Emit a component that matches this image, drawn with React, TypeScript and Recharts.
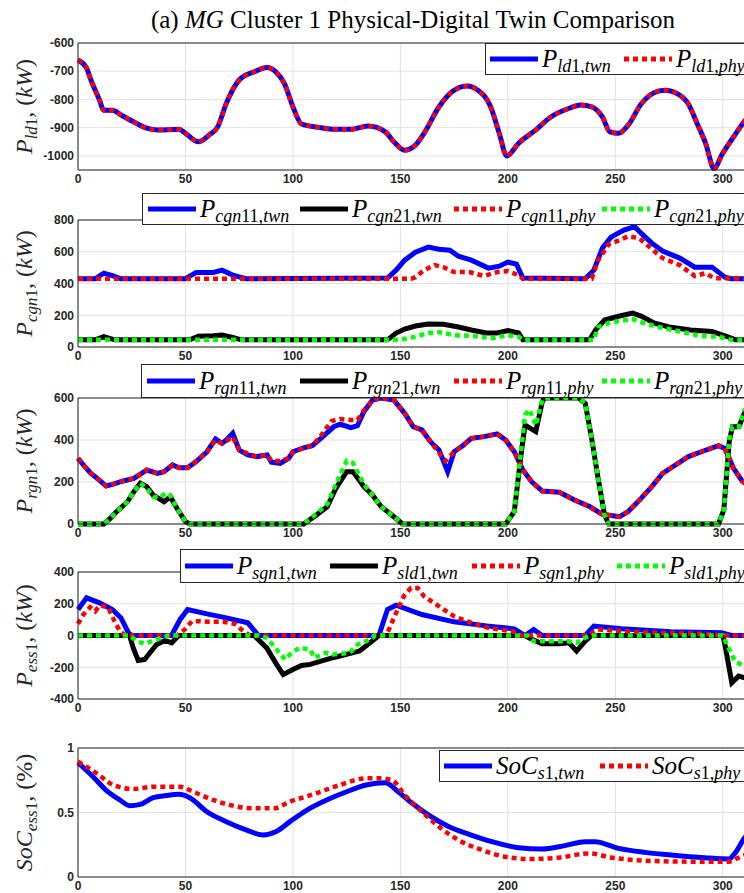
import React from 'react';
import { LineChart, Line, XAxis, YAxis, CartesianGrid, ReferenceLine, Label } from 'recharts';

// time axis
const xTicks = [0, 50, 100, 150, 200, 250, 300];

// panel 1: load power
const ld1Twn = [[0,-660],[4,-689],[6,-731],[10,-802],[12,-838],[16,-838],[20,-855],[26,-880],[32,-902],[37,-908],[47,-906],[50,-920],[56,-950],[61,-926],[65,-897],[69,-814],[75,-731],[82,-702],[88,-687],[92,-702],[96,-743],[100,-826],[104,-887],[113,-900],[119,-906],[127,-906],[135,-894],[143,-915],[147,-950],[152,-980],[157,-962],[161,-920],[168,-826],[174,-773],[181,-752],[186,-767],[192,-826],[196,-920],[199.5,-1000],[205,-955],[213,-908],[220,-862],[228,-833],[234,-820],[239,-826],[244,-862],[247.5,-915],[251.5,-920],[256,-891],[262,-816],[268,-776],[273,-767],[279,-780],[284,-816],[288,-884],[292,-955],[296,-1045],[299.5,-997],[305,-933],[310,-878],[315,-830]];
const ld1Phy = ld1Twn;

// panel 2: conventional generators
const cgn11Twn = [[0,430],[8,430],[12,465],[16,450],[20,430],[50,430],[55,470],[63,470],[67,484],[72,453],[78,430],[144,434],[148,484],[152,547],[157,597],[163,629],[168,616],[173,610],[177,572],[183,547],[191,497],[196,509],[200,535],[204,522],[207,434],[236,430],[240,484],[244,623],[248,692],[254,736],[259,758],[262,717],[267,654],[272,604],[280,560],[287,503],[295,503],[301,440],[304,430],[315,430]];
const cgn21Twn = [[0,45],[8,45],[12,65],[17,45],[52,45],[56,68],[63,71],[67,75],[72,60],[76,45],[144,45],[148,88],[152,113],[157,132],[163,145],[170,143],[177,126],[183,107],[190,88],[195,88],[200,103],[205,88],[207,45],[238,45],[241,110],[245,170],[252,195],[258,214],[262,195],[268,151],[275,126],[285,107],[295,98],[302,66],[306,45],[315,45]];
const cgn11Phy = [[0,430],[155,430],[157,440],[161,484],[166,516],[170,503],[175,472],[182,472],[189,447],[195,472],[200,478],[205,453],[207,430],[239,430],[242,547],[247,648],[252,673],[256,698],[261,686],[266,629],[272,560],[280,516],[287,447],[292,465],[296,434],[315,430]];
const cgn21Phy = [[0,45],[150,45],[157,65],[163,88],[168,93],[175,75],[185,68],[193,55],[200,75],[205,65],[207,45],[240,45],[242,126],[247,151],[252,164],[258,176],[263,151],[270,126],[280,98],[290,68],[298,65],[304,45],[315,45]];

// panel 3: renewable generators
const rgn11Twn = [[0,313],[2.5,281],[6,241],[9,217],[13,181],[16,189],[21,205],[26,217],[32,257],[37,241],[40,249],[44,281],[47,268],[51,268],[55,297],[60,344],[64,405],[67,384],[69,400],[72,432],[75,352],[79,329],[83,321],[88,329],[90,294],[94,289],[98,313],[100,344],[105,363],[109,373],[113,408],[119,463],[122,475],[127,459],[130,468],[133,535],[137,590],[141,600],[147,590],[152,527],[156,463],[160,448],[164,392],[168,352],[172,249],[175,344],[179,373],[183,408],[189,416],[195,429],[199,400],[203,344],[207,257],[211,202],[216,157],[224,151],[231,114],[238,83],[244,46],[252,35],[256,59],[262,122],[267,178],[272,241],[278,281],[284,321],[290,344],[298,373],[301,360],[305,265],[309,205],[315,160]];
const rgn21Twn = [[0,0],[12,0],[15,27],[18,59],[23,106],[26,154],[29,194],[32,178],[35,138],[40,106],[43,130],[46,75],[50,11],[52,0],[105,0],[111,43],[116,83],[120,170],[125,249],[128,249],[133,178],[137,138],[141,83],[146,43],[151,0],[199,0],[203,59],[206.5,360],[208,471],[213,440],[216,582],[217,600],[233,600],[236,575],[239,408],[242,217],[245,43],[247,0],[298,0],[300.5,67],[303,392],[304.5,463],[307.5,463],[310,527],[315,600]];
const rgn11Phy = [[0,313],[3,275],[6,241],[9,217],[13,181],[16,189],[21,205],[26,217],[32,257],[37,241],[40,249],[44,281],[47,268],[51,268],[55,297],[60,344],[64,400],[67,384],[69,395],[72,415],[75,352],[79,335],[83,321],[88,329],[90,300],[94,300],[98,313],[100,340],[105,363],[109,373],[113,420],[118,490],[122,500],[127,495],[130,495],[133,540],[137,590],[141,600],[147,590],[152,527],[156,463],[160,448],[164,392],[168,340],[171,300],[175,344],[179,373],[183,408],[189,416],[195,429],[199,400],[203,344],[207,257],[211,202],[216,157],[224,151],[231,114],[238,83],[244,46],[252,35],[256,59],[262,122],[267,178],[272,241],[278,281],[284,321],[290,344],[298,373],[301,360],[305,265],[309,205],[315,160]];
const rgn21Phy = [[0,0],[12,0],[15,27],[18,59],[23,106],[26,154],[29,194],[32,170],[35,130],[38,125],[41,148],[43,135],[46,75],[50,11],[52,0],[105,0],[111,50],[116,95],[120,190],[125,300],[128,290],[133,190],[137,138],[141,83],[146,43],[151,0],[199,0],[203,59],[206.5,380],[208,520],[210,545],[213,470],[216,590],[217,600],[233,600],[236,575],[239,408],[242,217],[245,43],[247,0],[298,0],[300.5,67],[303,400],[304.5,463],[307.5,463],[310,540],[315,600]];

// panel 4: storage
const sgn1Twn = [[0,164],[4,237],[10,206],[16,164],[20,111],[23.5,17],[25,0],[43.5,0],[47.5,101],[51,164],[60,136],[69,111],[79,80],[84,0],[140,0],[144,164],[148,191],[160,132],[175,86],[191,59],[203,42],[208,0],[212,38],[216,0],[236,0],[240,59],[253,42],[276,23],[299.5,17],[304,0],[315,0]];
const sld1Twn = [[0,0],[24,0],[25.7,-78],[28,-157],[31,-151],[33.5,-109],[36.6,-57],[40.5,-31],[43.6,-46],[46.6,-4],[47,0],[82,0],[83,-15],[87.8,-78],[92.4,-182],[95.5,-245],[100,-214],[104,-189],[108,-182],[118.6,-140],[131,-98],[136,-45],[140,0],[208,0],[209.8,-15],[215.8,-52],[223.7,-52],[228.4,-46],[232,-98],[236,-36],[239,0],[300,0],[301,-57],[304.2,-297],[307.4,-256],[310,-266],[315,-260]];
const sgn1Phy = [[0,73],[2.5,132],[5.6,178],[8,153],[10,189],[14,178],[17,90],[19.5,27],[22,0],[46,0],[49.7,38],[53,90],[56.7,90],[60.5,86],[67.6,86],[73,73],[76,38],[80,0],[142,0],[144,17],[148,143],[152,258],[155,300],[158,300],[161,247],[168,184],[175,121],[183,80],[191,48],[202,27],[206.5,0],[237.6,0],[242,38],[261,21],[291.6,10],[299.5,0],[315,0]];
const sld1Phy = [[0,0],[24,0],[27.4,-36],[31,-52],[36.6,-25],[41.4,-4],[42,0],[84,0],[87.8,-15],[92.4,-88],[96.3,-151],[99.4,-109],[103,-78],[108,-88],[110,-140],[115,-109],[118.6,-120],[126.5,-109],[130,-57],[134,-36],[137,-15],[138,0],[209,0],[212,-36],[228,-36],[232,-46],[236,-15],[238,0],[300,0],[302,-57],[305.6,-162],[310,-193],[315,-190]];

// panel 5: state of charge
const socTwn = [[0,0.886],[7,0.777],[13,0.674],[19.5,0.597],[24,0.553],[29,0.563],[35,0.615],[41,0.631],[47,0.641],[52,0.615],[60,0.506],[69,0.429],[78.5,0.364],[86,0.326],[92,0.351],[98.6,0.429],[106.5,0.519],[115.7,0.597],[125,0.661],[134,0.713],[143,0.731],[149,0.661],[155.5,0.571],[163,0.481],[172.6,0.39],[182,0.331],[192.6,0.274],[205,0.227],[215.8,0.217],[226.5,0.243],[236,0.274],[240.5,0.274],[251.6,0.222],[263.7,0.191],[276,0.171],[291.6,0.15],[303,0.14],[305.6,0.183],[310,0.3],[315,0.4]];
const socPhy = [[0,0.894],[8.7,0.804],[16.4,0.713],[25.7,0.682],[35,0.7],[47.4,0.7],[53.6,0.661],[62.8,0.597],[72,0.553],[81.6,0.532],[91,0.532],[98.6,0.584],[109.5,0.641],[121.8,0.713],[134,0.765],[140,0.765],[146,0.752],[152,0.636],[160,0.506],[168,0.39],[177,0.287],[188,0.209],[198.6,0.157],[209.8,0.14],[223.7,0.15],[237.6,0.183],[248.4,0.15],[263.7,0.127],[284,0.119],[302.8,0.119],[307.4,0.15],[315,0.2]];

const toPts = (a: number[][]) => a.map(([t, v]) => ({ t, v }));

const BLUE = '#0000ff', RED = '#ff0000', BLACK = '#000000', GREEN = '#00ff00';
const AX = '#262626';
const SERIF = '"Liberation Serif", "Times New Roman", serif';
const SANS = '"Liberation Sans", Arial, sans-serif';
const CHART_W = 755;
const TOP_PAD = 8;
const X_H = 22;

type Series = { data: number[][]; color: string; dotted?: boolean; base: string; sub: string; legendX: number };

// split a subscript into italic letters / upright digits and commas
function runs(s: string) {
  const out: { txt: string; it: boolean }[] = [];
  for (const ch of s) {
    const it = /[a-zA-Z]/.test(ch);
    const last = out[out.length - 1];
    if (last && last.it === it) last.txt += ch;
    else out.push({ txt: ch, it });
  }
  return out;
}

function MathHtml({ base, sub }: { base: string; sub: string }) {
  return (
    <span style={{ fontFamily: SERIF, fontSize: 25, whiteSpace: 'nowrap', color: '#000' }}>
      <i>{base}</i>
      <span style={{ fontSize: 18, position: 'relative', top: 5 }}>
        {runs(sub).map((r, i) => (
          <span key={i} style={{ fontStyle: r.it ? 'italic' : 'normal' }}>{r.txt}</span>
        ))}
      </span>
    </span>
  );
}

function LegendBox({ left, top, height, items }: { left: number; top: number; height: number; items: Series[] }) {
  return (
    <div style={{ position: 'absolute', left, top, width: 900 - left, height, border: `1px solid ${AX}`, background: '#fff', boxSizing: 'border-box' }}>
      {items.map((it, i) => (
        <div key={i} style={{ position: 'absolute', left: it.legendX - left - 1, top: 0, height: '100%', display: 'flex', alignItems: 'center' }}>
          <svg width={48} height={8} style={{ marginRight: 4 }}>
            <line x1={0} y1={4} x2={48} y2={4} stroke={it.color} strokeWidth={5} strokeDasharray={it.dotted ? '5 4' : undefined} />
          </svg>
          <MathHtml base={it.base} sub={it.sub} />
        </div>
      ))}
    </div>
  );
}

function YLabel({ cy, base, sub, unit }: { cy: number; base: string; sub: string; unit: string }) {
  const unitItalic = unit !== '%';
  return (
    <text transform={`translate(32,${cy}) rotate(-90)`} textAnchor="middle" fontFamily={SERIF} fontSize={24} fill={AX}>
      <tspan fontStyle="italic">{base}</tspan>
      {runs(sub).map((r, i) => (
        <tspan key={i} fontSize={17} fontStyle={r.it ? 'italic' : 'normal'} dy={i === 0 ? 5 : 0}>{r.txt}</tspan>
      ))}
      <tspan dy={-5}>{', ('}</tspan>
      <tspan fontStyle={unitItalic ? 'italic' : 'normal'}>{unit}</tspan>
      <tspan>)</tspan>
    </text>
  );
}

type PanelProps = {
  plotTop: number; plotH: number; domain: [number, number]; ticks: number[];
  series: Series[]; yBase: string; ySub: string; yUnit: string; curve: 'monotone' | 'linear';
};

function Panel({ plotTop, plotH, domain, ticks, series, yBase, ySub, yUnit, curve }: PanelProps) {
  const tickStyle = { fontSize: 12, fontWeight: 'bold' as const, fill: AX, fontFamily: SANS };
  return (
    <div style={{ position: 'absolute', left: 0, top: plotTop - TOP_PAD }}>
      <LineChart width={CHART_W} height={TOP_PAD + plotH + X_H} margin={{ top: TOP_PAD, right: 0, bottom: 0, left: 0 }}>
        <CartesianGrid stroke="#e2e2e2" />
        <XAxis type="number" dataKey="t" domain={[0, 315]} ticks={xTicks} height={X_H} tick={tickStyle}
          tickLine={false} axisLine={{ stroke: AX }} tickMargin={0} tickSize={4} />
        <YAxis type="number" domain={domain} ticks={ticks} width={78} tick={tickStyle}
          tickLine={false} axisLine={{ stroke: AX }} tickMargin={0} tickSize={4}>
          <Label content={() => <YLabel cy={TOP_PAD + plotH / 2} base={yBase} sub={ySub} unit={yUnit} />} />
        </YAxis>
        <ReferenceLine y={domain[1]} stroke={AX} />
        {series.map((s, i) => (
          <Line key={i} data={toPts(s.data)} dataKey="v" type={curve} stroke={s.color}
            strokeWidth={s.dotted ? 4.5 : 5} strokeDasharray={s.dotted ? '5 4' : undefined}
            dot={false} activeDot={false} isAnimationActive={false} />
        ))}
      </LineChart>
    </div>
  );
}

const p1: Series[] = [
  { data: ld1Twn, color: BLUE, base: 'P', sub: 'ld1,twn', legendX: 490 },
  { data: ld1Phy, color: RED, dotted: true, base: 'P', sub: 'ld1,phy', legendX: 624 },
];
const p2: Series[] = [
  { data: cgn11Twn, color: BLUE, base: 'P', sub: 'cgn11,twn', legendX: 148 },
  { data: cgn21Twn, color: BLACK, base: 'P', sub: 'cgn21,twn', legendX: 300 },
  { data: cgn11Phy, color: RED, dotted: true, base: 'P', sub: 'cgn11,phy', legendX: 454 },
  { data: cgn21Phy, color: GREEN, dotted: true, base: 'P', sub: 'cgn21,phy', legendX: 602 },
];
const p3: Series[] = [
  { data: rgn11Twn, color: BLUE, base: 'P', sub: 'rgn11,twn', legendX: 147 },
  { data: rgn21Twn, color: BLACK, base: 'P', sub: 'rgn21,twn', legendX: 300 },
  { data: rgn11Phy, color: RED, dotted: true, base: 'P', sub: 'rgn11,phy', legendX: 454 },
  { data: rgn21Phy, color: GREEN, dotted: true, base: 'P', sub: 'rgn21,phy', legendX: 602 },
];
const p4: Series[] = [
  { data: sgn1Twn, color: BLUE, base: 'P', sub: 'sgn1,twn', legendX: 185 },
  { data: sld1Twn, color: BLACK, base: 'P', sub: 'sld1,twn', legendX: 330 },
  { data: sgn1Phy, color: RED, dotted: true, base: 'P', sub: 'sgn1,phy', legendX: 472 },
  { data: sld1Phy, color: GREEN, dotted: true, base: 'P', sub: 'sld1,phy', legendX: 617 },
];
const p5: Series[] = [
  { data: socTwn, color: BLUE, base: 'SoC', sub: 's1,twn', legendX: 444 },
  { data: socPhy, color: RED, dotted: true, base: 'SoC', sub: 's1,phy', legendX: 600 },
];

export default function App() {
  return (
    <div style={{ position: 'fixed', left: 0, top: 0, width: 744, height: 893, overflow: 'hidden', background: '#fff' }}>
      <div style={{ position: 'absolute', left: 0, top: 6, width: 826, textAlign: 'center', fontFamily: SERIF, fontSize: 25, color: '#000', whiteSpace: 'nowrap' }}>
        (a) <i>MG</i> Cluster 1 Physical-Digital Twin Comparison
      </div>
      <Panel plotTop={43} plotH={127} domain={[-1050, -600]} ticks={[-1000, -900, -800, -700, -600]} series={p1} yBase="P" ySub="ld1" yUnit="kW" curve="monotone" />
      <Panel plotTop={220} plotH={127} domain={[0, 800]} ticks={[0, 200, 400, 600, 800]} series={p2} yBase="P" ySub="cgn1" yUnit="kW" curve="linear" />
      <Panel plotTop={398} plotH={126} domain={[0, 600]} ticks={[0, 200, 400, 600]} series={p3} yBase="P" ySub="rgn1" yUnit="kW" curve="linear" />
      <Panel plotTop={572} plotH={127} domain={[-400, 400]} ticks={[-400, -200, 0, 200, 400]} series={p4} yBase="P" ySub="ess1" yUnit="kW" curve="linear" />
      <Panel plotTop={748} plotH={129} domain={[0, 1]} ticks={[0, 0.5, 1]} series={p5} yBase="SoC" ySub="ess1" yUnit="%" curve="monotone" />
      <LegendBox left={485} top={43} height={32} items={p1} />
      <LegendBox left={142} top={193} height={32} items={p2} />
      <LegendBox left={141} top={364} height={34} items={p3} />
      <LegendBox left={180} top={549} height={34} items={p4} />
      <LegendBox left={439} top={750} height={32} items={p5} />
    </div>
  );
}
